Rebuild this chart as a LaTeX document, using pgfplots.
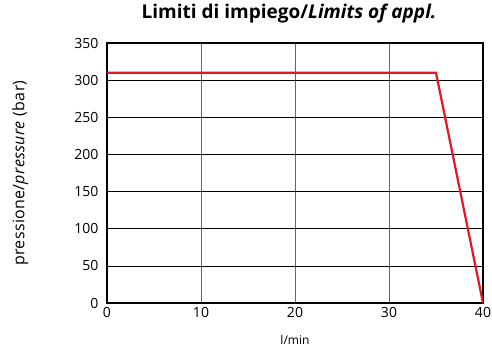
\documentclass[border=0pt]{standalone}
\usepackage{fontspec}
\setmainfont{Open Sans}
\usepackage{pgfplots}
\pgfplotsset{compat=1.18}
\definecolor{limitred}{RGB}{228,22,38}
\begin{document}
\begin{tikzpicture}
\path[use as bounding box] (-107pt,-47pt) rectangle (385pt,303pt);
\begin{axis}[
    scale only axis,
    width=376pt, height=260pt,
    xmin=0, xmax=40, ymin=0, ymax=350,
    xtick={0,10,...,40}, ytick={0,50,...,350},
    axis line style={line width=1.4pt},
    tick style={draw=none},
    /pgf/number format/assume math mode=true,
    tick label style={font=\fontsize{14}{16}\selectfont},
    xticklabel style={yshift=-1pt},
    yticklabel style={xshift=-5pt},
    x grid style={gray!80!black, line width=0.6pt},
    y grid style={black, line width=0.5pt},
    xmajorgrids, ymajorgrids,
    title={\textbf{Limiti di impiego/\textit{Limits of appl.}}},
    title style={font=\fontsize{19}{21}\selectfont, at={(axis description cs:0.5,1)}, anchor=center, yshift=23pt, xshift=-6pt},
    xlabel={l/min},
    xlabel style={font=\fontsize{12}{14}\selectfont, at={(axis description cs:0.5,0)}, anchor=center, yshift=-37pt},
    ylabel={pressione/\textit{pressure} (bar)},
    ylabel style={font=\fontsize{16}{18}\selectfont\addfontfeature{LetterSpace=2}, at={(axis description cs:-0.231,0.5)}, anchor=center},
]
\addplot[limitred, line width=2.2pt] coordinates {(0,310) (35,310) (40,0)};
\end{axis}
\end{tikzpicture}
\end{document}
